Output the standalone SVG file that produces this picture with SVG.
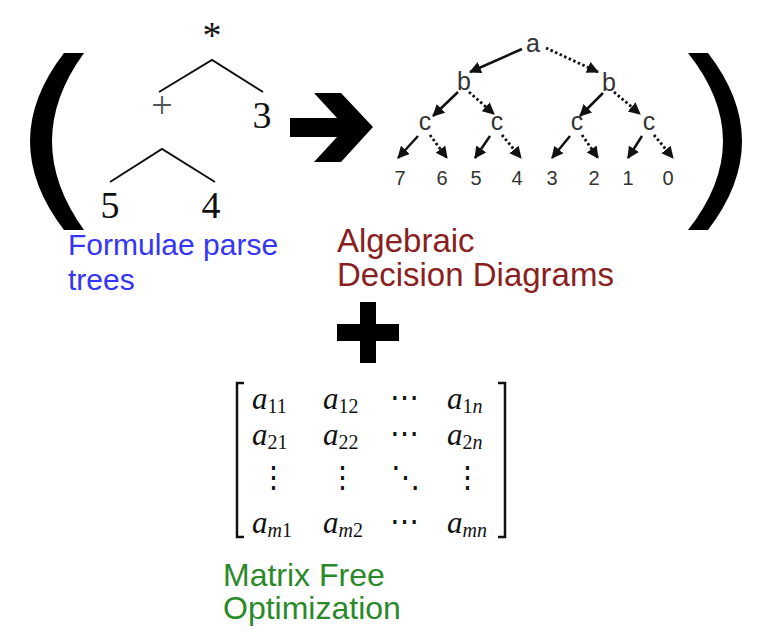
<svg xmlns="http://www.w3.org/2000/svg" width="764" height="642" viewBox="0 0 764 642">
<style>
.tm{font-family:"Liberation Serif","Times New Roman",serif;fill:#111}
.add{font-family:"Liberation Sans",Arial,sans-serif;fill:#333;text-anchor:middle}
.lbl{font-family:"Liberation Sans",Arial,sans-serif}
.edge{stroke:#111;stroke-width:2;fill:none}
.sol{stroke:#111;stroke-width:2.5;fill:none;marker-end:url(#ah)}
.dot{stroke:#111;stroke-width:2.8;fill:none;stroke-dasharray:2.5 2.5;marker-end:url(#ah)}
.mx{font-family:"Liberation Serif","Times New Roman",serif;fill:#111;font-size:31px}
.sub{font-size:20px}
.sym{font-family:"DejaVu Serif",serif;fill:#111;font-size:29px;text-anchor:middle}
</style>
<defs>
<marker id="ah" markerUnits="userSpaceOnUse" markerWidth="14" markerHeight="14" refX="11" refY="6" orient="auto">
<path d="M0,0 L12,6 L0,12 Z" fill="#111"/>
</marker>
</defs>
<rect width="764" height="642" fill="#fff"/>

<!-- parentheses -->
<g id="paren-left"><path d="M64,53 Q-4,141 64,230 L84,230 Q20,141 84,53 Z" fill="#000"/></g>
<g id="paren-right"><path d="M688,53 L708,53 Q776,141 708,230 L688,230 Q758,141 688,53 Z" fill="#000"/></g>

<g id="connectors">
<g id="parse-edges">
<path class="edge" d="M159,92 L212,60 L263,92"/>
<path class="edge" d="M110,182 L162,149 L215,182"/>
</g>
<g id="add-edges">
<line class="sol" x1="522" y1="49" x2="470" y2="72"/>
<line class="dot" x1="546" y1="48" x2="598" y2="72"/>
<line class="sol" x1="458" y1="92" x2="433" y2="116"/>
<line class="dot" x1="469" y1="92" x2="494" y2="114"/>
<line class="sol" x1="603" y1="93" x2="580" y2="116"/>
<line class="dot" x1="614" y1="92" x2="640" y2="114"/>
<line class="sol" x1="418" y1="136" x2="398" y2="158"/>
<line class="dot" x1="430" y1="135" x2="447" y2="158"/>
<line class="sol" x1="490" y1="136" x2="475" y2="158"/>
<line class="dot" x1="502" y1="135" x2="521" y2="158"/>
<line class="sol" x1="570" y1="136" x2="552" y2="158"/>
<line class="dot" x1="582" y1="135" x2="598" y2="158"/>
<line class="sol" x1="642" y1="136" x2="628" y2="158"/>
<line class="dot" x1="654" y1="135" x2="673" y2="158"/>
</g>
</g>

<g id="pt-times"><text class="tm" x="212" y="48" font-size="38" text-anchor="middle">*</text></g>
<g id="pt-plus"><text class="tm" x="162" y="118" font-size="38" text-anchor="middle" style="fill:#555">+</text></g>
<g id="pt-3"><text class="tm" x="262" y="128" font-size="38" text-anchor="middle">3</text></g>
<g id="pt-5"><text class="tm" x="110" y="218" font-size="38" text-anchor="middle">5</text></g>
<g id="pt-4"><text class="tm" x="211" y="218" font-size="38" text-anchor="middle">4</text></g>

<g id="big-arrow"><polygon points="290,118 337,118 314,93 341,93 373,127 341,162 314,162 337,137 290,137" fill="#000"/></g>

<g id="add-a"><text class="add" x="533" y="52" font-size="25">a</text></g>
<g id="add-b1"><text class="add" x="464" y="90" font-size="25">b</text></g>
<g id="add-b2"><text class="add" x="609" y="91" font-size="25">b</text></g>
<g id="add-c1"><text class="add" x="425" y="130" font-size="25">c</text></g>
<g id="add-c2"><text class="add" x="497" y="130" font-size="25">c</text></g>
<g id="add-c3"><text class="add" x="577" y="130" font-size="25">c</text></g>
<g id="add-c4"><text class="add" x="649" y="130" font-size="25">c</text></g>
<g id="add-leaves">
<text class="add" x="400" y="185" font-size="20">7</text>
<text class="add" x="442" y="185" font-size="20">6</text>
<text class="add" x="476" y="185" font-size="20">5</text>
<text class="add" x="517" y="185" font-size="20">4</text>
<text class="add" x="552" y="185" font-size="20">3</text>
<text class="add" x="594" y="185" font-size="20">2</text>
<text class="add" x="628" y="185" font-size="20">1</text>
<text class="add" x="668" y="185" font-size="20">0</text>
</g>

<g id="label-formulae"><text class="lbl" font-size="30" fill="#3535f5"><tspan x="68" y="255">Formulae parse</tspan><tspan x="68" y="290">trees</tspan></text></g>
<g id="label-add"><text class="lbl" font-size="33" fill="#8a1f22"><tspan x="337" y="252">Algebraic</tspan><tspan x="337" y="286">Decision Diagrams</tspan></text></g>

<g id="big-plus"><rect x="360" y="302" width="16" height="61" fill="#000"/><rect x="337" y="324" width="62" height="17" fill="#000"/></g>

<g id="matrix">
<path d="M244,383 H237 V537 H244" stroke="#111" stroke-width="2.5" fill="none"/>
<path d="M498,383 H505 V537 H498" stroke="#111" stroke-width="2.5" fill="none"/>
<text class="mx" x="252" y="409"><tspan font-style="italic">a</tspan><tspan class="sub" dy="4">11</tspan></text>
<text class="mx" x="323" y="409"><tspan font-style="italic">a</tspan><tspan class="sub" dy="4">12</tspan></text>
<text class="sym" x="404" y="407">⋯</text>
<text class="mx" x="447" y="409"><tspan font-style="italic">a</tspan><tspan class="sub" dy="4">1</tspan><tspan class="sub" font-style="italic">n</tspan></text>
<text class="mx" x="252" y="445"><tspan font-style="italic">a</tspan><tspan class="sub" dy="4">21</tspan></text>
<text class="mx" x="323" y="445"><tspan font-style="italic">a</tspan><tspan class="sub" dy="4">22</tspan></text>
<text class="sym" x="404" y="443">⋯</text>
<text class="mx" x="447" y="445"><tspan font-style="italic">a</tspan><tspan class="sub" dy="4">2</tspan><tspan class="sub" font-style="italic">n</tspan></text>
<text class="sym" x="273" y="487">⋮</text>
<text class="sym" x="342" y="487">⋮</text>
<text class="sym" x="405" y="487">⋱</text>
<text class="sym" x="467" y="487">⋮</text>
<text class="mx" x="252" y="533"><tspan font-style="italic">a</tspan><tspan class="sub" dy="4" font-style="italic">m</tspan><tspan class="sub">1</tspan></text>
<text class="mx" x="323" y="533"><tspan font-style="italic">a</tspan><tspan class="sub" dy="4" font-style="italic">m</tspan><tspan class="sub">2</tspan></text>
<text class="sym" x="404" y="531">⋯</text>
<text class="mx" x="447" y="533"><tspan font-style="italic">a</tspan><tspan class="sub" dy="4" font-style="italic">mn</tspan></text>
</g>

<g id="label-matrix"><text class="lbl" font-size="32" fill="#2a8a2a"><tspan x="223" y="586">Matrix Free</tspan><tspan x="223" y="619">Optimization</tspan></text></g>
</svg>
